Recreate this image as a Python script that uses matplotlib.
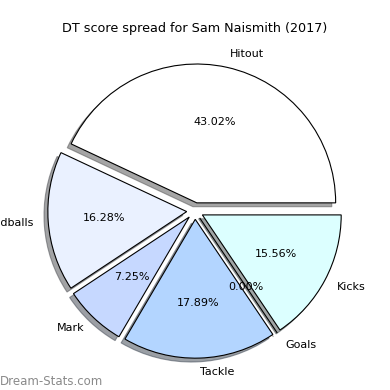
import matplotlib
matplotlib.use("Agg")
import matplotlib.pyplot as plt

labels = ["Hitout", "Handballs", "Mark", "Tackle", "Goals", "Kicks"]
shares = [43.02, 16.28, 7.25, 17.89, 0.00, 15.56]
colors = ["#ffffff", "#eaf1ff", "#c6d8ff", "#b3d5ff", "#ffffff", "#dcffff"]
explode = [0.06] * len(labels)

fig = plt.figure(figsize=(3.9, 3.9), dpi=100)
ax = fig.add_axes([0.055, 0.014, 0.89, 0.89])
ax.pie(shares, labels=labels, colors=colors, explode=explode, startangle=0,
       autopct="%.2f%%", shadow=True, labeldistance=1.1, pctdistance=0.6,
       wedgeprops=dict(edgecolor="black", linewidth=0.8),
       textprops=dict(fontsize=8))
ax.set_aspect("equal")
ax.set_title("DT score spread for Sam Naismith (2017)", fontsize=9.2, pad=4)

# watermark, bottom-left
fig.text(0.0, 0.012, "Dream-Stats.com", fontsize=8.5, color="#8a8a8a")

fig.savefig("out.png", dpi=100)
